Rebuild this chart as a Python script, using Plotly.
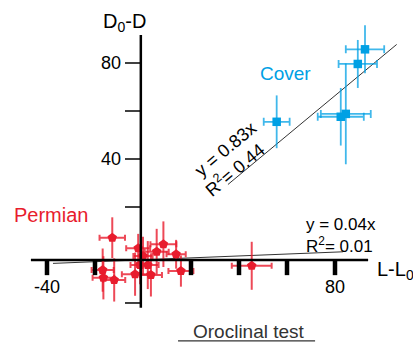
import plotly.graph_objects as go

# ---- data ----
cover_x = [92.5, 89.5, 84.5, 82.4, 55.7]
cover_y = [85.7, 79.6, 58.8, 57.6, 55.5]
cover_xerr = [8.0, 8.0, 10.4, 9.6, 5.4]
cover_yerr = [10.0, 10.0, 21.0, 12.0, 11.0]

perm_x = [-12.8, -2.0, 8.5, 5.7, 13.8, 2.0, -16.8, -16.5, -12.0, -3.3, 3.3, 15.8, 0.0, -1.2, 45.3]
perm_y = [7.2, 2.8, 4.5, 1.4, 0.3, -4.2, -6.3, -9.5, -10.4, -8.0, -8.3, -6.7, -0.4, -4.2, -4.5]
perm_xerr = [5.3, 5.0, 5.4, 5.0, 4.0, 4.5, 4.6, 4.5, 4.6, 5.5, 4.6, 5.2, 4.0, 4.0, 8.3]
perm_yerr = [8.5, 6.0, 9.5, 9.5, 6.0, 10.0, 9.0, 9.0, 9.0, 9.0, 9.0, 6.5, 8.0, 8.0, 10.0]

fit_cover = dict(slope=0.83, intercept=0.0, x0=35.4, x1=105.7, eq="y = 0.83x", r2="0.44")
fit_perm = dict(slope=0.04, intercept=-2.0, x0=-37.5, x1=83.3, eq="y = 0.04x", r2="0.01")

x_ticks = [-40, -20, 20, 40, 60, 80]
x_tick_labels = {-40: "-40", 80: "80"}
y_ticks = [-20, 20, 40, 60, 80]
y_tick_labels = {40: "40", 80: "80"}

BLUE = "rgb(0,160,228)"
BLUE_ERR = "rgba(0,160,228,0.75)"
RED = "rgb(232,28,45)"
RED_ERR = "rgba(232,28,45,0.8)"
FONT = "Liberation Sans, Arial, sans-serif"

X_AXIS_Y = -2.1
Y_AXIS_X = -0.9

fig = go.Figure()

for f in (fit_cover, fit_perm):
    xs = [f["x0"], f["x1"]]
    fig.add_trace(go.Scatter(x=xs, y=[f["slope"] * v + f["intercept"] for v in xs],
                             mode="lines", line=dict(color="#333", width=1), hoverinfo="skip"))

fig.add_trace(go.Scatter(
    x=perm_x, y=perm_y, mode="markers",
    marker=dict(symbol="pentagon", size=10, color=RED),
    error_x=dict(type="data", array=perm_xerr, color=RED_ERR, thickness=2, width=3),
    error_y=dict(type="data", array=perm_yerr, color=RED_ERR, thickness=2, width=0),
))
fig.add_trace(go.Scatter(
    x=cover_x, y=cover_y, mode="markers",
    marker=dict(symbol="square", size=8.5, color=BLUE),
    error_x=dict(type="data", array=cover_xerr, color=BLUE_ERR, thickness=1.8, width=4),
    error_y=dict(type="data", array=cover_yerr, color=BLUE_ERR, thickness=1.8, width=0),
))

shapes = []
# axes
shapes.append(dict(type="line", x0=-46.7, x1=93.8, y0=X_AXIS_Y, y1=X_AXIS_Y,
                   line=dict(color="black", width=2.5), layer="above"))
shapes.append(dict(type="line", x0=Y_AXIS_X, x1=Y_AXIS_X, y0=-22.0, y1=91.7,
                   line=dict(color="black", width=2.5), layer="above"))
for t in x_ticks:
    shapes.append(dict(type="line", x0=t, x1=t, y0=X_AXIS_Y, y1=-8.4,
                       line=dict(color="black", width=4.5), layer="above"))
for t in y_ticks:
    shapes.append(dict(type="line", x0=-7.5, x1=Y_AXIS_X, y0=t, y1=t,
                       line=dict(color="black", width=1.5), layer="above"))
# underline of title
shapes.append(dict(type="line", x0=14.6, x1=71.7, y0=-35.8, y1=-35.8,
                   line=dict(color="#333", width=1.2)))

ann = []
for t, lab in x_tick_labels.items():
    ann.append(dict(x=t, y=-13.3, text=lab, showarrow=False, xanchor="center", yanchor="middle",
                    font=dict(size=18, color="black", family=FONT)))
for t, lab in y_tick_labels.items():
    ann.append(dict(x=-8.3, y=t, text=lab, showarrow=False, xanchor="right", yanchor="middle",
                    font=dict(size=18, color="black", family=FONT)))
ann.append(dict(x=-7.9, y=97.0, text="D<sub>0</sub>-D", showarrow=False, xanchor="center",
                yanchor="middle", font=dict(size=20, color="black", family=FONT)))
ann.append(dict(x=96.5, y=-6.4, text="L-L<sub>0</sub>", showarrow=False, xanchor="left",
                yanchor="middle", font=dict(size=20, color="black", family=FONT)))
ann.append(dict(x=59.5, y=75.7, text="Cover", showarrow=False, xanchor="center",
                yanchor="middle", font=dict(size=19, color=BLUE, family=FONT)))
ann.append(dict(x=-38.4, y=16.5, text="Permian", showarrow=False, xanchor="center",
                yanchor="middle", font=dict(size=20, color=RED, family=FONT)))
ann.append(dict(x=44.2, y=-32.0, text="Oroclinal test", showarrow=False, xanchor="center",
                yanchor="middle", font=dict(size=19, color="#333", family=FONT)))
# equations
ann.append(dict(x=34.6, y=44.0, text=fit_cover["eq"], showarrow=False, textangle=-40,
                font=dict(size=18, color="black", family=FONT)))
ann.append(dict(x=38.0, y=35.8, text="R<sup>2</sup>= " + fit_cover["r2"], showarrow=False,
                textangle=-40, font=dict(size=18, color="black", family=FONT)))
ann.append(dict(x=82.5, y=12.5, text=fit_perm["eq"], showarrow=False,
                font=dict(size=17, color="black", family=FONT)))
ann.append(dict(x=81.7, y=4.2, text="R<sup>2</sup>= " + fit_perm["r2"], showarrow=False,
                font=dict(size=17, color="black", family=FONT)))

fig.update_layout(
    width=413, height=343, autosize=False,
    margin=dict(l=0, r=0, t=0, b=0, pad=0),
    paper_bgcolor="white", plot_bgcolor="white",
    showlegend=False,
    xaxis=dict(range=[-59.58, 112.5], visible=False, fixedrange=True),
    yaxis=dict(range=[-36.67, 106.25], visible=False, fixedrange=True),
    shapes=shapes, annotations=ann,
)

fig.write_html("out.html", config={"displayModeBar": False},
               post_script="document.body.style.margin='0';document.body.style.overflow='hidden';")
